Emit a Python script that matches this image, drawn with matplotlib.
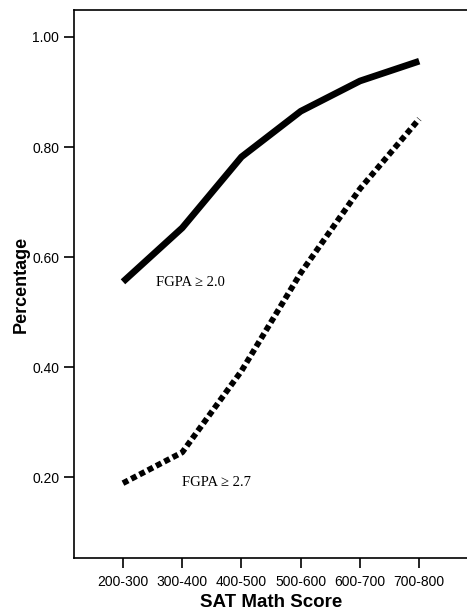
import matplotlib
matplotlib.use('Agg')
import matplotlib.pyplot as plt

categories = ['200-300', '300-400', '400-500', '500-600', '600-700', '700-800']
fgpa_20 = [0.555, 0.653, 0.782, 0.865, 0.920, 0.956]
fgpa_27 = [0.189, 0.245, 0.393, 0.571, 0.724, 0.851]

plt.rcParams['font.family'] = 'Liberation Sans'

fig = plt.figure(figsize=(4.67, 6.14), dpi=100)
ax = fig.add_axes([0.158, 0.0912, 0.845, 0.8925])

x = list(range(len(categories)))
ax.plot(x, fgpa_20, color='black', linewidth=4.8, solid_capstyle='butt')
ax.plot(x, fgpa_27, color='black', linewidth=4.2, linestyle=(0, (1, 0.6)),
        dash_capstyle='butt')

ax.text(0.55, 0.553, 'FGPA ≥ 2.0', fontsize=10.5, family='Liberation Serif',
        va='center', ha='left')
ax.text(1.0, 0.19, 'FGPA ≥ 2.7', fontsize=10.5, family='Liberation Serif',
        va='center', ha='left')

ax.set_xlim(-0.83, 5.83)
ax.set_ylim(0.053, 1.049)
ax.set_xticks(x)
ax.set_xticklabels(categories)
ax.set_yticks([0.2, 0.4, 0.6, 0.8, 1.0])
ax.set_yticklabels(['0.20', '0.40', '0.60', '0.80', '1.00'])
ax.tick_params(labelsize=10, length=7, width=1.2, direction='out')
ax.tick_params(axis='x', pad=5)
for s in ['left', 'bottom', 'top']:
    ax.spines[s].set_linewidth(1.2)
ax.spines['right'].set_visible(False)

ax.set_xlabel('SAT Math Score', fontsize=13.5, fontweight='bold', labelpad=4)
ax.set_ylabel('Percentage', fontsize=13, fontweight='bold', labelpad=2)

fig.savefig('out.png', dpi=100)
